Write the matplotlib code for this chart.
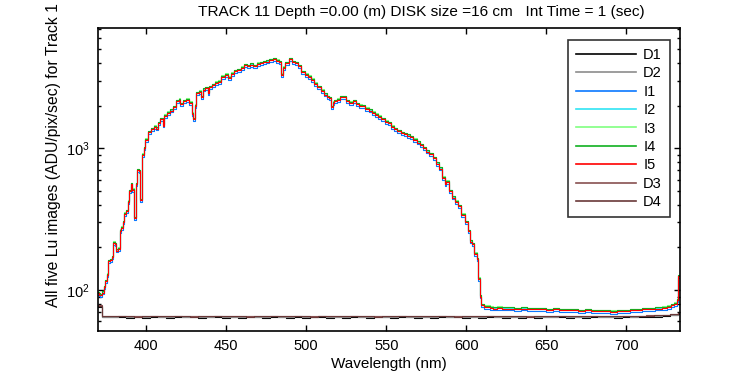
import matplotlib
matplotlib.use("Agg")
import matplotlib.pyplot as plt
import numpy as np

plt.rcParams["font.family"] = ["Liberation Sans", "DejaVu Sans"]
plt.rcParams["mathtext.fontset"] = "custom"
plt.rcParams["mathtext.rm"] = "Liberation Sans"
plt.rcParams["mathtext.default"] = "regular"

# light images, I5 (nm, ADU/pix/sec)
i5_wl = [370, 371, 372, 373, 374, 375, 376, 377, 378, 379,
         380, 381, 382, 383, 384, 385, 386, 387, 388, 389,
         390, 391, 392, 393, 394, 395, 396, 397, 398, 399,
         400, 402, 404, 406, 407, 408, 410, 411, 412, 414,
         416, 418, 420, 421, 422, 424, 426, 428, 429, 430,
         431, 432, 434, 435, 436, 438, 439, 440, 442, 444,
         446, 448, 450, 452, 454, 456, 458, 460, 462, 464,
         466, 468, 470, 472, 474, 476, 478, 480, 482, 484,
         485, 486, 488, 490, 492, 494, 496, 498, 500, 502,
         504, 506, 508, 510, 512, 514, 515, 516, 517, 518,
         520, 522, 524, 526, 528, 530, 532, 534, 536, 538,
         540, 542, 544, 546, 548, 550, 552, 554, 556, 558,
         560, 562, 564, 566, 568, 570, 572, 574, 576, 578,
         580, 582, 584, 586, 587, 588, 590, 592, 594, 596,
         598, 600, 602, 603, 604, 606, 607, 608, 609, 610,
         612, 614, 616, 618, 620, 624, 628, 632, 636, 640,
         644, 648, 652, 656, 660, 664, 668, 672, 676, 680,
         684, 688, 692, 696, 700, 704, 708, 712, 716, 720,
         724, 727, 729, 731, 732, 733]
i5_val = [95, 93, 92, 96, 105, 115, 128, 160, 162, 170,
          215, 210, 190, 195, 262, 275, 300, 345, 360, 420,
          500, 560, 510, 320, 560, 700, 690, 430, 900, 1000,
          1150, 1300, 1360, 1420, 1380, 1500, 1600, 1450, 1700, 1780,
          1850, 1950, 2150, 2200, 2050, 2150, 2200, 2100, 1750, 1600,
          2000, 2450, 2500, 2300, 2600, 2650, 2450, 2700, 2800, 2900,
          2950, 3200, 3300, 3150, 3350, 3500, 3550, 3700, 3850, 3800,
          3900, 3800, 3950, 4000, 4050, 4100, 4200, 4250, 4150, 4050,
          3300, 3700, 4000, 4250, 4050, 4000, 3800, 3450, 3300, 3200,
          3050, 2850, 2700, 2550, 2400, 2300, 2250, 1950, 2100, 2150,
          2200, 2300, 2300, 2150, 2100, 2150, 2050, 2000, 1980, 1900,
          1850, 1780, 1720, 1670, 1600, 1540, 1500, 1420, 1360, 1320,
          1280, 1260, 1230, 1200, 1150, 1100, 1050, 1000, 950, 910,
          850, 780, 720, 620, 560, 580, 500, 450, 420, 390,
          340, 300, 260, 220, 210, 180, 165, 120, 90, 78,
          76, 76, 75, 74, 75, 74, 74, 73, 74, 73,
          73, 73, 72, 73, 72, 72, 72, 71, 72, 71,
          71, 71, 70, 71, 71, 72, 72, 73, 73, 74,
          75, 76, 78, 80, 85, 125]

# the other light images sit almost on top of I5, a few percent off
i_gain = {"I1": 0.97, "I2": 1.01, "I3": 1.025, "I4": 1.02, "I5": 1.0}

# dark images on a 5 nm grid
dark_wl = list(range(370, 740, 5))
d1 = [76, 64.2, 64.0, 64.5, 63.9, 64.3, 63.8, 64.6, 64.1, 63.7,
      64.3, 64.0, 64.4, 63.8, 64.1, 64.5, 63.9, 64.2, 63.7, 64.3,
      64.0, 63.8, 64.4, 64.1, 63.9, 64.3, 63.7, 64.0, 64.4, 63.8,
      64.2, 63.9, 64.5, 64.0, 63.7, 64.3, 64.1, 63.8, 64.4, 64.0,
      63.9, 64.2, 63.7, 64.3, 64.0, 64.5, 63.8, 64.1, 63.9, 64.4,
      64.0, 63.7, 64.2, 63.9, 64.3, 63.8, 64.1, 64.0, 64.4, 63.7,
      64.2, 63.9, 64.3, 64.0, 64.1, 63.8, 64.4, 64.2, 64.5, 64.7,
      65.0, 65.5, 66.3, 67.5]
d2 = [77, 65.0, 64.8, 65.3, 64.7, 65.1, 64.6, 65.4, 64.9, 64.5,
      65.1, 64.8, 65.2, 64.6, 64.9, 65.3, 64.7, 65.0, 64.5, 65.1,
      64.8, 64.6, 65.2, 64.9, 64.7, 65.1, 64.5, 64.8, 65.2, 64.6,
      65.0, 64.7, 65.3, 64.8, 64.5, 65.1, 64.9, 64.6, 65.2, 64.8,
      64.7, 65.0, 64.5, 65.1, 64.8, 65.3, 64.6, 64.9, 64.7, 65.2,
      64.8, 64.5, 65.0, 64.7, 65.1, 64.6, 64.9, 64.8, 65.2, 64.5,
      65.0, 64.7, 65.1, 64.8, 64.9, 64.6, 65.2, 65.0, 65.3, 65.5,
      65.8, 66.3, 67.1, 68.3]
d3 = [78, 65.8, 65.5, 66.0, 65.4, 65.7, 65.3, 66.1, 65.6, 65.2,
      65.8, 65.5, 65.9, 65.3, 65.6, 66.0, 65.4, 65.7, 65.2, 65.8,
      65.5, 65.3, 65.9, 65.6, 65.4, 65.8, 65.2, 65.5, 65.9, 65.3,
      65.7, 65.4, 66.0, 65.5, 65.2, 65.8, 65.6, 65.3, 65.9, 65.5,
      65.4, 65.7, 65.2, 65.8, 65.5, 66.0, 65.3, 65.6, 65.4, 65.9,
      65.5, 65.2, 65.7, 65.4, 65.8, 65.3, 65.6, 65.5, 65.9, 65.2,
      65.7, 65.4, 65.8, 65.5, 65.6, 65.3, 65.9, 65.7, 66.0, 66.2,
      66.5, 67.0, 67.8, 69.0]
d4 = [77, 65.3, 65.6, 65.1, 65.5, 65.0, 65.4, 65.2, 65.7, 65.1,
      65.4, 65.6, 65.0, 65.5, 65.2, 65.3, 65.7, 65.1, 65.4, 65.0,
      65.6, 65.2, 65.3, 65.5, 65.1, 65.4, 65.6, 65.0, 65.3, 65.5,
      65.1, 65.6, 65.2, 65.4, 65.7, 65.0, 65.3, 65.5, 65.1, 65.4,
      65.6, 65.2, 65.5, 65.1, 65.3, 65.0, 65.6, 65.4, 65.2, 65.5,
      65.1, 65.4, 65.3, 65.6, 65.0, 65.5, 65.2, 65.4, 65.1, 65.6,
      65.3, 65.5, 65.1, 65.4, 65.2, 65.6, 65.3, 65.5, 65.8, 66.0,
      66.3, 66.8, 67.5, 68.6]

series_order = ["D1", "D2", "I1", "I2", "I3", "I4", "I5", "D3", "D4"]
colors = {"D1": "#000000", "D2": "#8c8c8c", "I1": "#0a78ff", "I2": "#30e4f4",
          "I3": "#80ff80", "I4": "#10b020", "I5": "#ff0000",
          "D3": "#885050", "D4": "#6a3838"}
darks = {"D1": d1, "D2": d2, "D3": d3, "D4": d4}

fig = plt.figure(figsize=(7.5, 3.75), dpi=100)
ax = fig.add_axes([0.1307, 0.118, 0.776, 0.807])

i5 = np.array(i5_val, dtype=float)
for name in series_order:
    if name in darks:
        ax.plot(dark_wl, darks[name], color=colors[name], lw=0.8,
                drawstyle="steps-mid", label=name)
    else:
        ax.plot(i5_wl, i5 * i_gain[name], color=colors[name], lw=0.8,
                drawstyle="steps-mid", label=name)

ax.set_yscale("log")
ax.set_xlim(370, 733.5)
ax.set_ylim(51.6, 7060)
ax.set_xticks([400, 450, 500, 550, 600, 650, 700])
ax.tick_params(which="both", direction="in", top=True, right=True,
               labelsize=10.5, width=1)
ax.tick_params(which="major", length=4.3, pad=6)
ax.tick_params(which="minor", length=2.2)
ax.tick_params(axis="x", which="minor", length=0)
for sp in ax.spines.values():
    sp.set_linewidth(1.2)

ax.set_xlabel("Wavelength (nm)", fontsize=11, labelpad=3)
fig.text(0.072, 1 - 307 / 375, "All five Lu images (ADU/pix/sec) for Track 1",
         rotation=90, ha="center", va="bottom", fontsize=11.3)
fig.text(0.562, 0.968,
         "TRACK 11 Depth =0.00 (m) DISK size =16 cm   Int Time = 1 (sec)",
         ha="center", va="center", fontsize=11.1)

leg = ax.legend(loc="upper right", bbox_to_anchor=(670 / 750, 1 - 40 / 375),
                bbox_transform=fig.transFigure, fontsize=10.5, frameon=True,
                fancybox=False, handlelength=4.1, handletextpad=0.5,
                labelspacing=0.3, borderpad=0.55, borderaxespad=0)
leg.get_frame().set_edgecolor("black")
leg.get_frame().set_linewidth(1.2)
for ln in leg.get_lines():
    ln.set_linewidth(1.2)

fig.savefig("out.png", dpi=100)
